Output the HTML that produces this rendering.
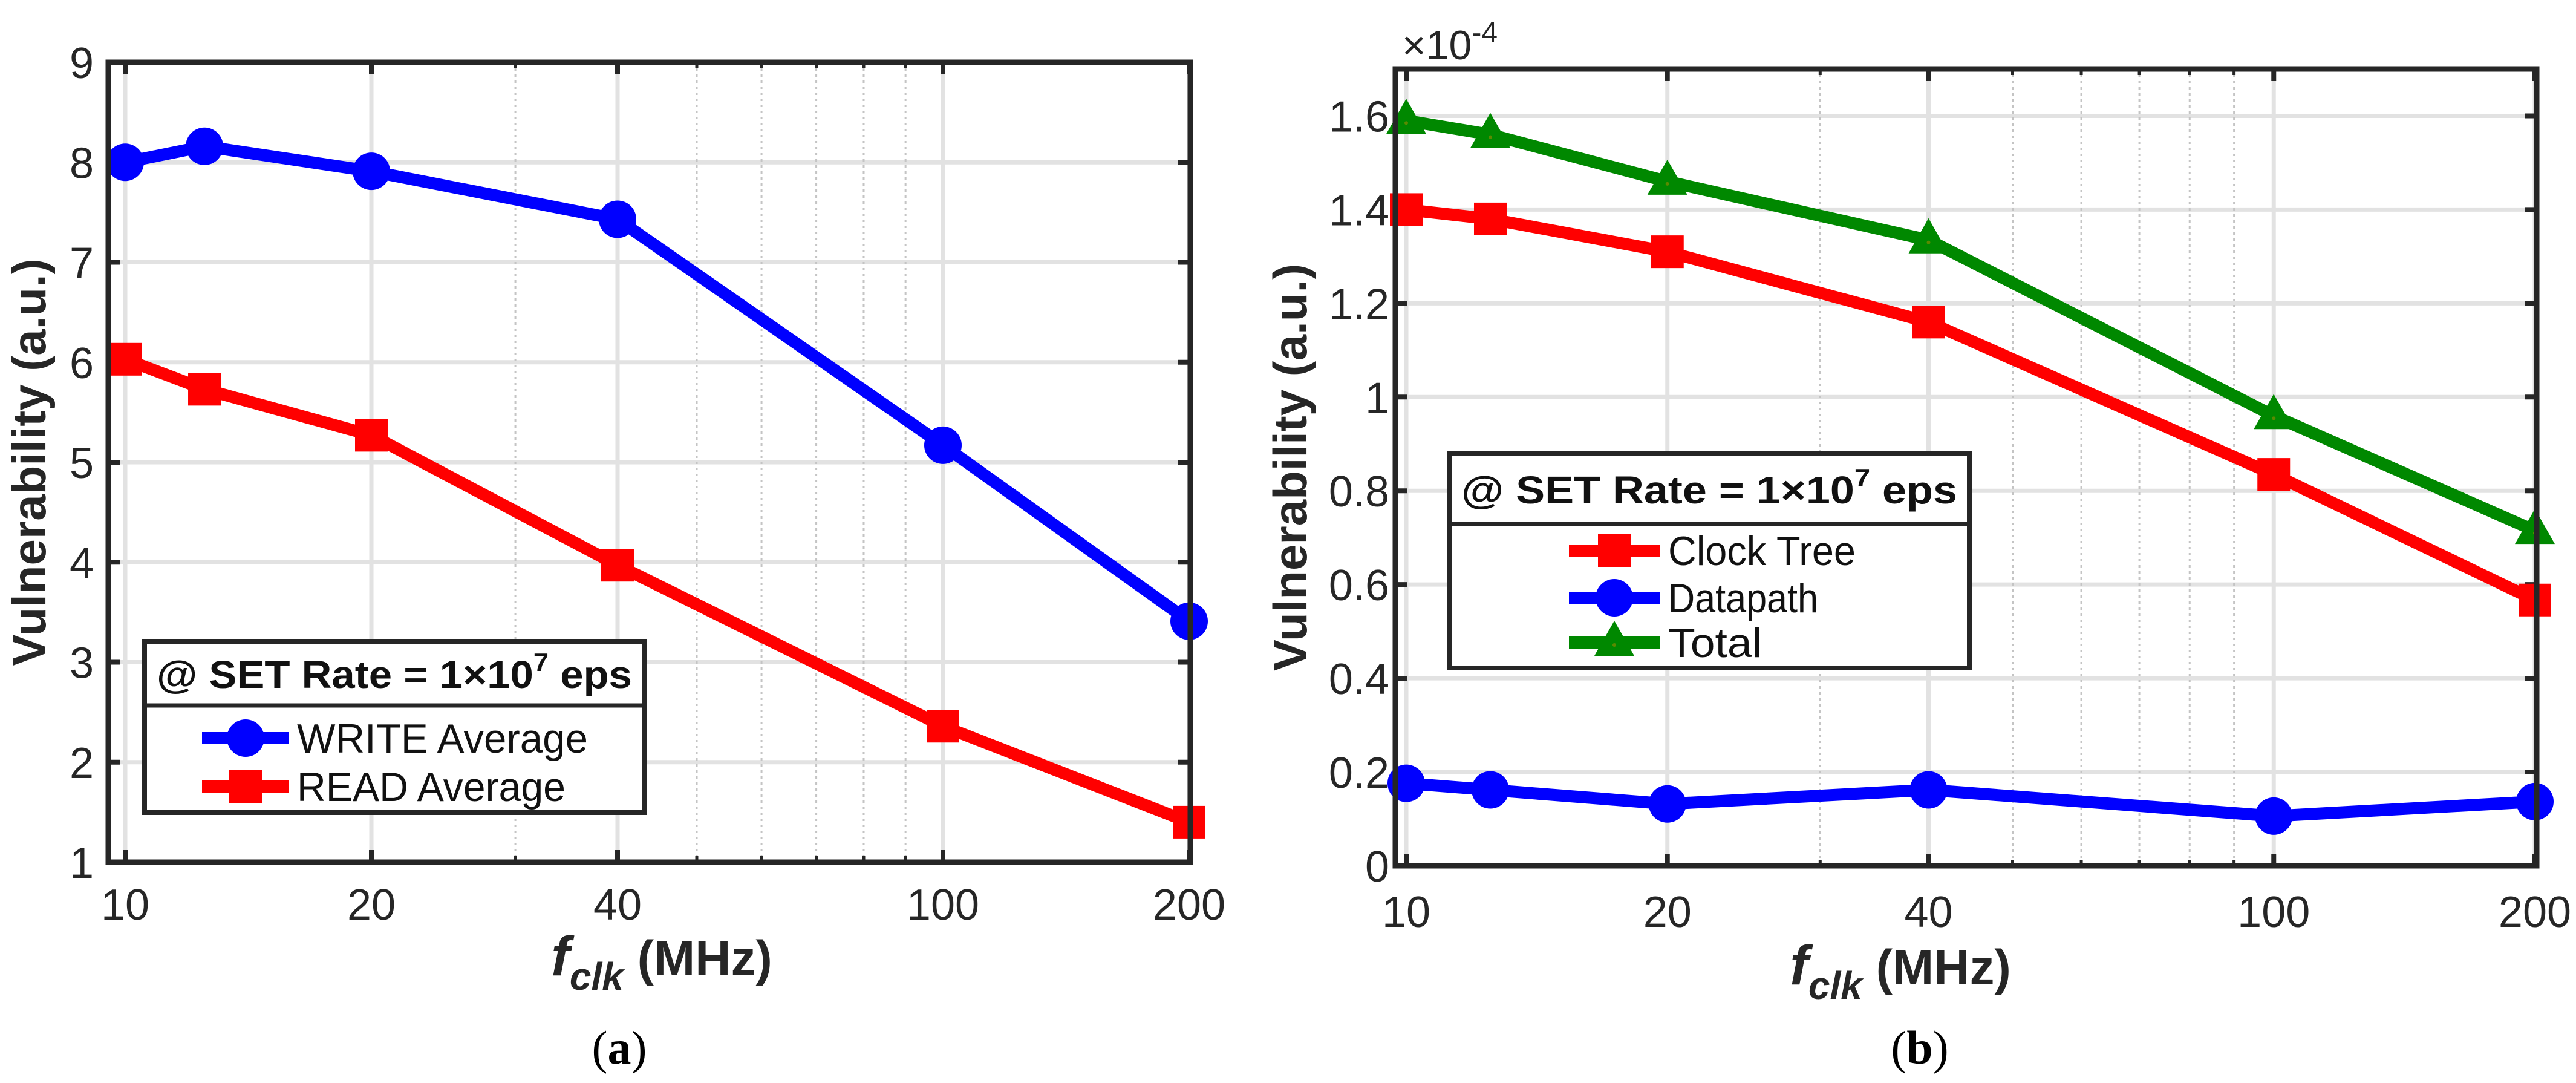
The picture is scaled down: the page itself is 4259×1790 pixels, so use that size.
<!DOCTYPE html>
<html><head><meta charset="utf-8"><style>
html,body{margin:0;padding:0;background:#fff;}
svg{display:block;font-family:"Liberation Sans",Arial,sans-serif;}
</style></head><body>
<svg id="fig" width="4259" height="1790" viewBox="0 0 4259 1790" xmlns="http://www.w3.org/2000/svg">
<rect width="4259" height="1790" fill="#fff"/>
<g id="chartA"></g>
<g id="chartB"></g>
</svg>
<script>
const xTickVals = [10, 20, 40, 100, 200];
const xTickLabels = ["10", "20", "40", "100", "200"];
const xMinorVals = [30, 50, 60, 70, 80, 90];
const freqs = [10, 12.5, 20, 40, 100, 200];
const writeAvg = [8.0, 8.16, 7.91, 7.43, 5.17, 3.41];
const readAvg = [6.03, 5.73, 5.27, 3.97, 2.36, 1.40];
const aYTicks = [1, 2, 3, 4, 5, 6, 7, 8, 9];
const aYLabels = ["1", "2", "3", "4", "5", "6", "7", "8", "9"];
const clockTree = [1.40, 1.38, 1.31, 1.16, 0.835, 0.567];
const datapath = [0.176, 0.162, 0.132, 0.162, 0.106, 0.137];
const total = [1.59, 1.56, 1.46, 1.335, 0.96, 0.715];
const bYTicks = [0, 0.2, 0.4, 0.6, 0.8, 1, 1.2, 1.4, 1.6];
const bYLabels = ["0", "0.2", "0.4", "0.6", "0.8", "1", "1.2", "1.4", "1.6"];

const NS = "http://www.w3.org/2000/svg";
function mk(parent, tag, attrs, name, inter) {
  const el = document.createElementNS(NS, tag);
  for (const k in attrs) el.setAttribute(k, attrs[k]);
  
  
  parent.appendChild(el);
  return el;
}
function marker(g, type, cx, cy, color, name) {
  if (type === 'circle') {
    mk(g, 'circle', {cx: cx, cy: cy, r: 31, fill: color}, name, false);
  } else if (type === 'square') {
    mk(g, 'rect', {x: cx - 27, y: cy - 27, width: 54, height: 54, fill: color}, name, false);
  } else {
    mk(g, 'polygon', {points: `${cx},${cy - 36} ${cx + 33},${cy + 22} ${cx - 33},${cy + 22}`, fill: color}, name, false);
    mk(g, 'circle', {cx: cx, cy: cy + 4, r: 3, fill: '#5a8a00'}, name + '-dot', false);
  }
}

function drawChart(g, cfg) {
  const X = v => cfg.x10 + (cfg.x200 - cfg.x10) / Math.log10(20) * Math.log10(v / 10);
  const Y = v => cfg.bottom - (v - cfg.ymin) / (cfg.ymax - cfg.ymin) * (cfg.bottom - cfg.top);
  cfg.yTicks.forEach((t, i) => {
    mk(g, 'line', {x1: cfg.left, x2: cfg.right, y1: Y(t), y2: Y(t), stroke: '#e2e2e2', 'stroke-width': 7}, 'y-gridline', false);
  });
  xTickVals.forEach(t => {
    mk(g, 'line', {x1: X(t), x2: X(t), y1: cfg.top, y2: cfg.bottom, stroke: '#e2e2e2', 'stroke-width': 7}, 'x-gridline', false);
  });
  xMinorVals.forEach(t => {
    mk(g, 'line', {x1: X(t), x2: X(t), y1: cfg.top, y2: cfg.bottom, stroke: '#c4c4c4', 'stroke-width': 3, 'stroke-dasharray': '4 6'}, 'x-minor-gridline', false);
  });
  cfg.yTicks.forEach((t, i) => {
    mk(g, 'line', {x1: cfg.left, x2: cfg.left + 20, y1: Y(t), y2: Y(t), stroke: '#262626', 'stroke-width': 8}, 'y-tick', false);
    mk(g, 'line', {x1: cfg.right, x2: cfg.right - 20, y1: Y(t), y2: Y(t), stroke: '#262626', 'stroke-width': 8}, 'y-tick', false);
    const tx = mk(g, 'text', {x: cfg.yLabelX, y: Y(t) + 26, 'font-size': 72, 'text-anchor': 'end', fill: '#262626'}, 'y-tick-label', false);
    tx.textContent = cfg.yLabels[i];
  });
  xTickVals.forEach((t, i) => {
    mk(g, 'line', {x1: X(t), x2: X(t), y1: cfg.bottom, y2: cfg.bottom - 20, stroke: '#262626', 'stroke-width': 8}, 'x-tick', false);
    mk(g, 'line', {x1: X(t), x2: X(t), y1: cfg.top, y2: cfg.top + 20, stroke: '#262626', 'stroke-width': 8}, 'x-tick', false);
    const tx = mk(g, 'text', {x: X(t), y: cfg.xLabelY, 'font-size': 72, 'text-anchor': 'middle', fill: '#262626'}, 'x-tick-label', false);
    tx.textContent = xTickLabels[i];
  });
  xMinorVals.forEach(t => {
    mk(g, 'line', {x1: X(t), x2: X(t), y1: cfg.bottom, y2: cfg.bottom - 10, stroke: '#262626', 'stroke-width': 5}, 'x-minor-tick', false);
    mk(g, 'line', {x1: X(t), x2: X(t), y1: cfg.top, y2: cfg.top + 10, stroke: '#262626', 'stroke-width': 5}, 'x-minor-tick', false);
  });
  cfg.series.forEach(s => {
    const pts = freqs.map((f, i) => X(f) + ',' + Y(s.values[i])).join(' ');
    mk(g, 'polyline', {points: pts, fill: 'none', stroke: s.color, 'stroke-width': 20, 'stroke-linejoin': 'round'}, s.name + '-line', false);
    freqs.forEach((f, i) => marker(g, s.marker, X(f), Y(s.values[i]), s.color, s.name + '-marker'));
  });
  mk(g, 'rect', {x: cfg.left, y: cfg.top, width: cfg.right - cfg.left, height: cfg.bottom - cfg.top, fill: 'none', stroke: '#262626', 'stroke-width': 9}, 'axes-box', false);
  const L = cfg.legend;
  mk(g, 'rect', {x: L.x, y: L.y, width: L.w, height: L.h, fill: '#fff', stroke: '#262626', 'stroke-width': 8}, 'legend-box', false);
  mk(g, 'line', {x1: L.x, x2: L.x + L.w, y1: L.div, y2: L.div, stroke: '#262626', 'stroke-width': 7}, 'legend-divider', false);
  const tt = mk(g, 'text', {x: L.x + L.w / 2, y: L.titleY, 'font-size': 64, 'font-weight': 'bold', 'text-anchor': 'middle', fill: '#111', textLength: L.w - 40, lengthAdjust: 'spacingAndGlyphs'}, 'legend-title', false);
  tt.innerHTML = '@ SET Rate = 1×10<tspan font-size="42" dy="-28">7</tspan><tspan dy="28"> eps</tspan>';
  cfg.series.forEach((s, i) => {
    const yy = L.rows[i];
    mk(g, 'line', {x1: L.lx1, x2: L.lx2, y1: yy, y2: yy, stroke: s.color, 'stroke-width': 20}, 'legend-line-' + s.name, false);
    marker(g, s.marker, (L.lx1 + L.lx2) / 2, yy, s.color, 'legend-marker-' + s.name);
    const t = mk(g, 'text', {x: L.tx, y: yy + 24, 'font-size': 68, fill: '#111', textLength: s.label.length * L.cw, lengthAdjust: 'spacingAndGlyphs'}, 'legend-entry-' + s.name, false);
    t.textContent = s.label;
  });
  const yl = mk(g, 'text', {x: 0, y: 0, 'font-size': 78, 'font-weight': 'bold', 'text-anchor': 'middle', fill: '#262626', transform: `translate(${cfg.yTitleX},${(cfg.top + cfg.bottom) / 2}) rotate(-90)`}, 'y-axis-title', false);
  yl.textContent = 'Vulnerability (a.u.)';
  const xl = mk(g, 'text', {x: cfg.xTitleX, y: cfg.xTitleY, 'font-size': 82, 'font-weight': 'bold', 'text-anchor': 'middle', fill: '#262626'}, 'x-axis-title', false);
  xl.innerHTML = '<tspan font-style="italic" font-size="92">f</tspan><tspan font-style="italic" font-size="64" dy="24">clk</tspan><tspan dy="-24"> (MHz)</tspan>';
  const cap = mk(g, 'text', {x: cfg.capX, y: 1758, 'font-size': 78, 'text-anchor': 'middle', fill: '#000', 'font-family': '"Liberation Serif",serif'}, 'panel-caption', false);
  cap.innerHTML = '(<tspan font-weight="bold">' + cfg.cap + '</tspan>)';
}

drawChart(document.getElementById('chartA'), {
  left: 179, right: 1968, top: 103, bottom: 1425, x10: 207, x200: 1966, ymin: 1, ymax: 9,
  yTicks: aYTicks, yLabels: aYLabels, yLabelX: 155, xLabelY: 1520,
  yTitleX: 75, xTitleX: 1094, xTitleY: 1612, capX: 1024, cap: 'a',
  series: [
    {name: 'write-average', label: 'WRITE Average', values: writeAvg, color: '#0000ff', marker: 'circle'},
    {name: 'read-average', label: 'READ Average', values: readAvg, color: '#ff0000', marker: 'square'}
  ],
  legend: {x: 239, y: 1060, w: 826, h: 283, div: 1166, titleY: 1137, rows: [1220, 1300], lx1: 334, lx2: 478, tx: 491, cw: 37}
});
drawChart(document.getElementById('chartB'), {
  left: 2307, right: 4194, top: 114, bottom: 1431, x10: 2325, x200: 4191, ymin: 0, ymax: 1.7,
  yTicks: bYTicks, yLabels: bYLabels, yLabelX: 2297, xLabelY: 1532,
  yTitleX: 2160, xTitleX: 3142, xTitleY: 1627, capX: 3174, cap: 'b',
  series: [
    {name: 'clock-tree', label: 'Clock Tree', values: clockTree, color: '#ff0000', marker: 'square'},
    {name: 'datapath', label: 'Datapath', values: datapath, color: '#0000ff', marker: 'circle'},
    {name: 'total', label: 'Total', values: total, color: '#008800', marker: 'triangle'}
  ],
  legend: {x: 2396, y: 749, w: 860, h: 355, div: 866, titleY: 832, rows: [910, 988, 1062], lx1: 2594, lx2: 2744, tx: 2758, cw: 31}
});
const ex = document.createElementNS(NS, 'text');


ex.setAttribute('x', 2318); ex.setAttribute('y', 98);
ex.setAttribute('font-size', 68); ex.setAttribute('fill', '#262626');
ex.innerHTML = '×10<tspan font-size="48" dy="-28">-4</tspan>';
document.getElementById('chartB').appendChild(ex);
</script>
</body></html>
